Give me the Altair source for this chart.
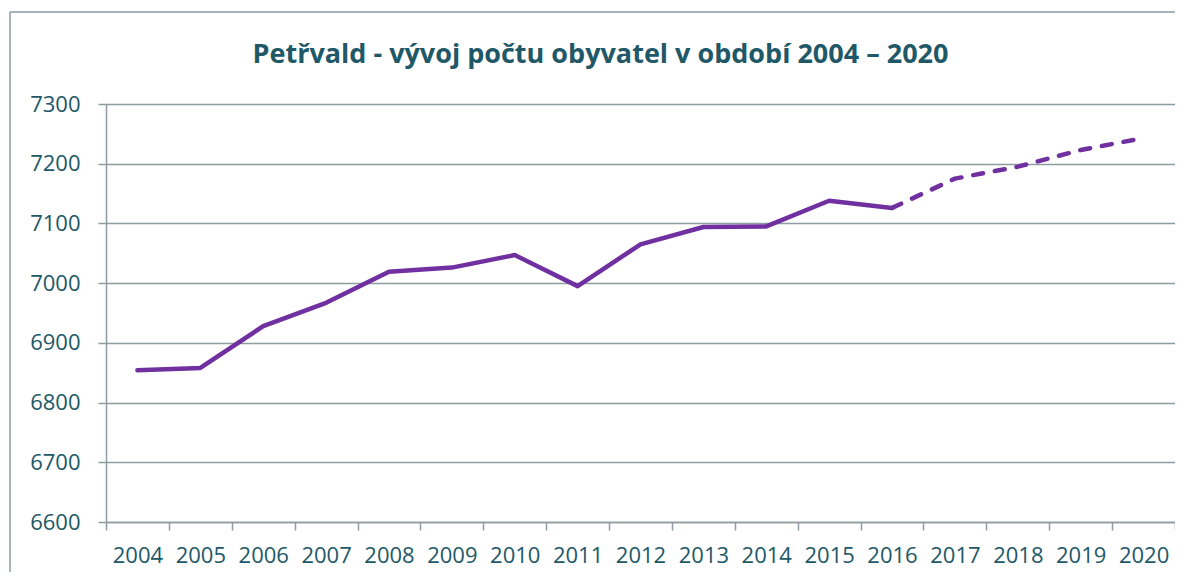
import altair as alt
import pandas as pd

years = ["2004", "2005", "2006", "2007", "2008", "2009", "2010", "2011", "2012",
         "2013", "2014", "2015", "2016", "2017", "2018", "2019", "2020"]
population = [6854, 6858, 6928, 6967, 7019, 7026, 7047, 6995, 7065,
              7094, 7095, 7138, 7126, 7175, 7195, 7223, 7243]
y_ticks = [6600, 6700, 6800, 6900, 7000, 7100, 7200, 7300]
title_text = "Petřvald - vývoj počtu obyvatel v období 2004 – 2020"

df = pd.DataFrame({"year": years, "yr": [int(y) for y in years], "pop": population})

W, H = 1069, 418
grid_col = "#8E9BA1"
text_col = "#215868"
line_col = "#7030A0"

x_enc = alt.X("year:N", title=None, sort=years, bandPosition=0.5,
              scale=alt.Scale(type="band", paddingInner=0, paddingOuter=0),
              axis=alt.Axis(labelAngle=0, tickBand="extent", grid=False,
                            domainColor=grid_col, domainWidth=1.5,
                            tickColor=grid_col, tickWidth=1.5, tickSize=8,
                            labelPadding=15, labelFontSize=22, labelColor=text_col,
                            labelFont="Open Sans"))
y_enc = alt.Y("pop:Q", title=None,
              scale=alt.Scale(domain=[6600, 7300], nice=False, zero=False),
              axis=alt.Axis(values=y_ticks, format="d", grid=True, gridColor=grid_col,
                            gridWidth=1.5, domainColor=grid_col, domainWidth=1.5,
                            tickColor=grid_col, tickWidth=1.5, tickSize=8,
                            labelPadding=18, labelFontSize=22, labelColor=text_col,
                            labelFont="Open Sans"))

solid = alt.Chart(df).transform_filter(alt.datum.yr <= 2016).mark_line(
    color=line_col, strokeWidth=4.5, strokeCap="round", strokeJoin="round"
).encode(x=x_enc, y=y_enc)

dashed = alt.Chart(df).transform_filter(alt.datum.yr >= 2016).mark_line(
    color=line_col, strokeWidth=4.5, strokeCap="round", strokeJoin="round",
    strokeDash=[10, 12]
).encode(x=x_enc, y=y_enc)

one = pd.DataFrame({"t": [title_text]})

border_top = alt.Chart(one).mark_rule(color=grid_col, strokeWidth=1.5).encode(
    x=alt.value(-96), x2=alt.value(W), y=alt.value(-92))
border_left = alt.Chart(one).mark_rule(color=grid_col, strokeWidth=1.5).encode(
    x=alt.value(-96), y=alt.value(-92), y2=alt.value(H + 50))

title = alt.Chart(one).mark_text(
    font="Open Sans", fontSize=27, fontWeight="bold", color=text_col,
    align="center", baseline="alphabetic"
).encode(x=alt.value(W / 2 - 40), y=alt.value(-41), text="t:N")

chart = alt.layer(border_top, border_left, solid, dashed, title).properties(
    width=W, height=H,
    autosize=alt.AutoSizeParams(type="none"),
    padding={"left": 98, "top": 96, "right": 0, "bottom": 50},
).configure_view(stroke=None).configure(background="white")

chart.save("out.html", embed_options={"renderer": "svg", "actions": False})
